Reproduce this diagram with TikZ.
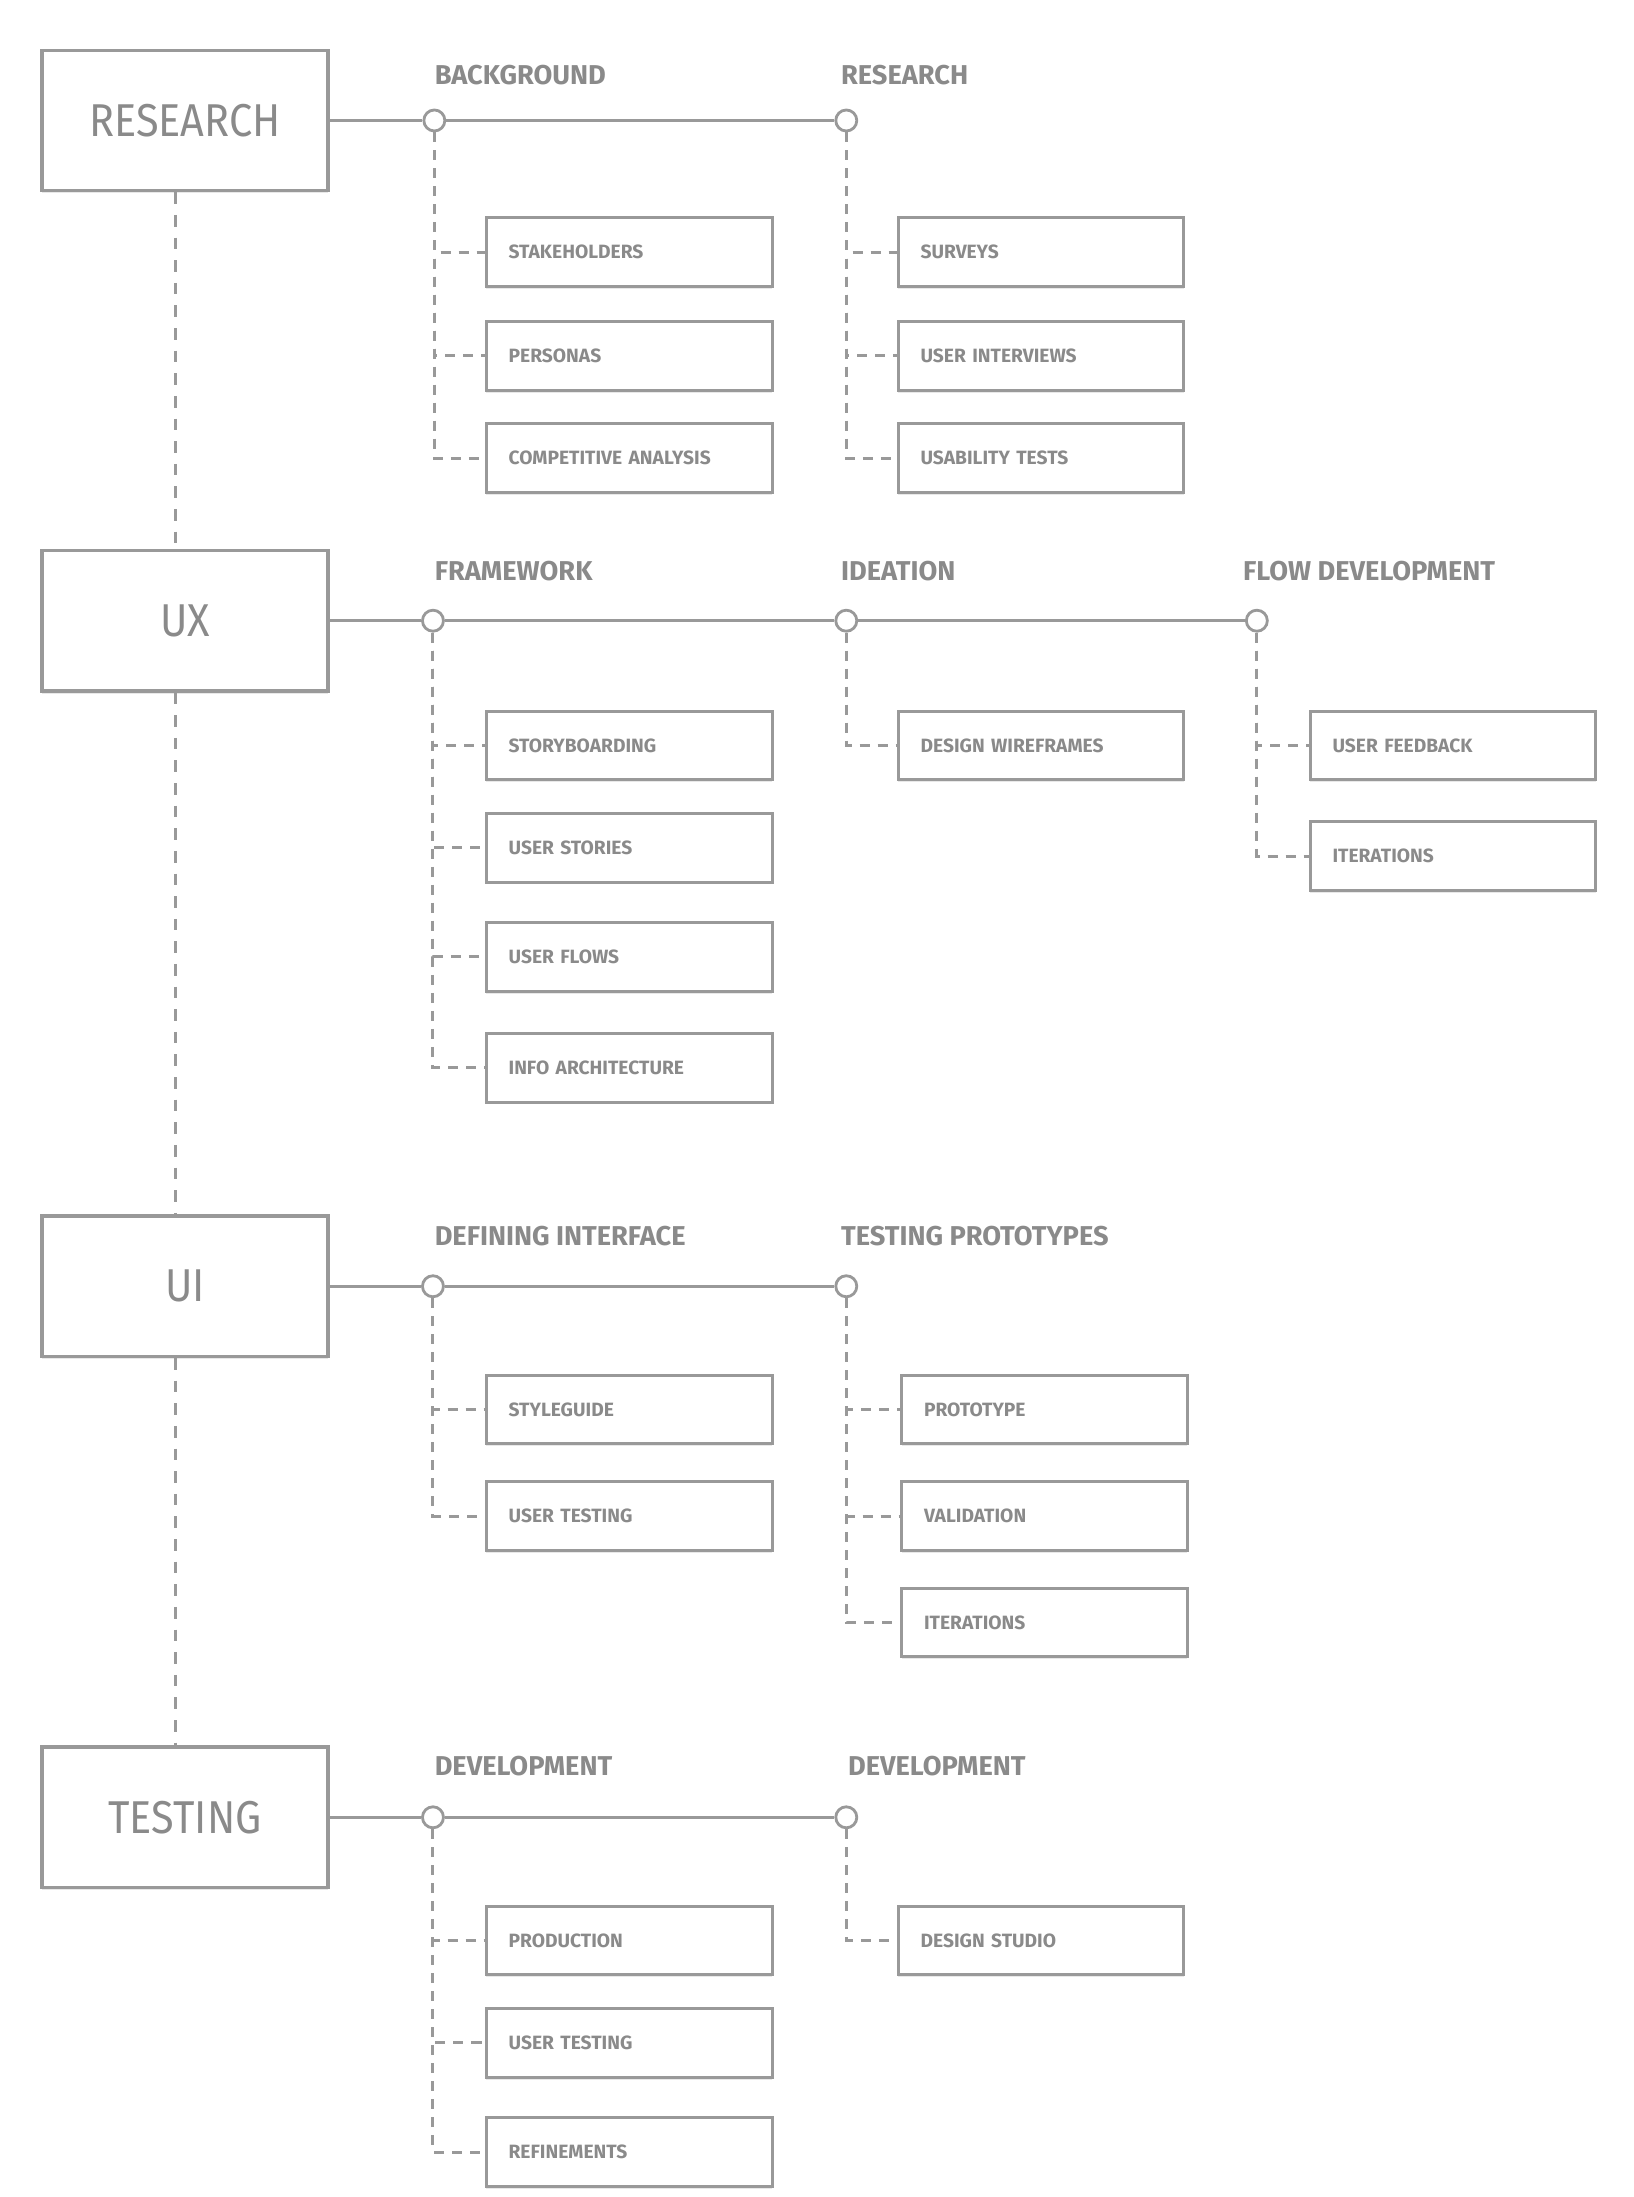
\documentclass[tikz,border=0pt]{standalone}
\usepackage{fontspec}
\setmainfont{Fira Sans}
\newfontfamily\boxfont[FakeStretch=0.9]{Fira Sans}
\newfontfamily\headfont{Fira Sans}
\usetikzlibrary{shadows}
\definecolor{ln}{HTML}{999999}
\definecolor{tx}{HTML}{8A8A8A}
\tikzset{
  mainbox/.style={draw=ln, line width=1.8pt, fill=white, minimum width=142.8pt, minimum height=70pt, inner sep=0pt,
    text=tx, font=\boxfont\fontsize{23}{23}\selectfont,
    drop shadow={opacity=0.18, shadow xshift=0pt, shadow yshift=-1.4pt}},
  childbox/.style={draw=ln, line width=1.5pt, fill=white, text width=120.4pt, inner xsep=11.2pt, inner ysep=0pt,
    minimum height=34.3pt, align=left, text=tx, font=\headfont\bfseries\fontsize{9.6}{10}\selectfont,
    drop shadow={opacity=0.18, shadow xshift=0pt, shadow yshift=-1.2pt}},
  headlab/.style={anchor=base west, inner sep=0pt, text=tx, font=\headfont\bfseries\fontsize{13.6}{14}\selectfont},
  knot/.style={circle, draw=ln, fill=white, line width=1.4pt, minimum size=10.5pt, inner sep=0pt},
  solidln/.style={draw=ln, line width=1.5pt},
  dashln/.style={draw=ln, line width=1.5pt, dash pattern=on 5pt off 4pt},
  spineln/.style={draw=ln, line width=1.5pt, dash pattern=on 5.8pt off 5.5pt}
}
\begin{document}
\begin{tikzpicture}[x=0.7pt, y=-0.7pt]
\useasboundingbox (0,0) rectangle (1166,1568);
\fill[white] (0,0) rectangle (1166,1568);
\coordinate (spine) at (125,0);

% ---------- RESEARCH row ----------
\node[mainbox] (research) at (132,86) {RESEARCH};
\node[headlab] (hr1) at (310,60) {BACKGROUND};
\node[headlab] (hr2) at (600,60) {RESEARCH};
\node[childbox] (rA1) at (449,180) {STAKEHOLDERS};
\node[childbox] (rA2) at (449,254) {PERSONAS};
\node[childbox] (rA3) at (449,327) {COMPETITIVE ANALYSIS};
\node[childbox] (rB1) at (743,180) {SURVEYS};
\node[childbox] (rB2) at (743,254) {USER INTERVIEWS};
\node[childbox] (rB3) at (743,327) {USABILITY TESTS};
\node[knot] (r1) at (310,86) {};
\node[knot] (r2) at (604,86) {};

% ---------- UX row ----------
\node[mainbox] (ux) at (132,443) {UX};
\node[headlab] (hu1) at (310,414) {FRAMEWORK};
\node[headlab] (hu2) at (600,414) {IDEATION};
\node[headlab] (hu3) at (887,414) {FLOW DEVELOPMENT};
\node[childbox] (uA1) at (449,532) {STORYBOARDING};
\node[childbox] (uA2) at (449,605) {USER STORIES};
\node[childbox] (uA3) at (449,683) {USER FLOWS};
\node[childbox] (uA4) at (449,762) {INFO ARCHITECTURE};
\node[childbox] (uB1) at (743,532) {DESIGN WIREFRAMES};
\node[childbox] (uC1) at (1037,532) {USER FEEDBACK};
\node[childbox] (uC2) at (1037,611) {ITERATIONS};
\node[knot] (u1) at (309,443) {};
\node[knot] (u2) at (604,443) {};
\node[knot] (u3) at (897,443) {};

% ---------- UI row ----------
\node[mainbox] (ui) at (132,918) {UI};
\node[headlab] (hi1) at (310,889) {DEFINING INTERFACE};
\node[headlab] (hi2) at (600,889) {TESTING PROTOTYPES};
\node[childbox] (iA1) at (449,1006) {STYLEGUIDE};
\node[childbox] (iA2) at (449,1082) {USER TESTING};
\node[childbox] (iB1) at (745.5,1006) {PROTOTYPE};
\node[childbox] (iB2) at (745.5,1082) {VALIDATION};
\node[childbox] (iB3) at (745.5,1158) {ITERATIONS};
\node[knot] (i1) at (309,918) {};
\node[knot] (i2) at (604,918) {};

% ---------- TESTING row ----------
\node[mainbox] (testing) at (132,1297) {TESTING};
\node[headlab] (ht1) at (310,1267) {DEVELOPMENT};
\node[headlab] (ht2) at (605,1267) {DEVELOPMENT};
\node[childbox] (tA1) at (449,1385) {PRODUCTION};
\node[childbox] (tA2) at (449,1458) {USER TESTING};
\node[childbox] (tA3) at (449,1536) {REFINEMENTS};
\node[childbox] (tB1) at (743,1385) {DESIGN STUDIO};
\node[knot] (t1) at (309,1297) {};
\node[knot] (t2) at (604,1297) {};

% ---------- spine ----------
\draw[spineln] (research.south -| spine) -- (ux.north -| spine);
\draw[spineln] (ux.south -| spine) -- (ui.north -| spine);
\draw[spineln] (ui.south -| spine) -- (testing.north -| spine);

% ---------- solid branches ----------
\draw[solidln] (research.east) -- (r1.west);
\draw[solidln] (r1.east) -- (r2.west);
\draw[solidln] (ux.east) -- (u1.west);
\draw[solidln] (u1.east) -- (u2.west);
\draw[solidln] (u2.east) -- (u3.west);
\draw[solidln] (ui.east) -- (i1.west);
\draw[solidln] (i1.east) -- (i2.west);
\draw[solidln] (testing.east) -- (t1.west);
\draw[solidln] (t1.east) -- (t2.west);

% ---------- dashed leaves ----------
\foreach \k/\c in {r1/rA1, r1/rA2, r1/rA3, r2/rB1, r2/rB2, r2/rB3,
                   u1/uA1, u1/uA2, u1/uA3, u1/uA4, u2/uB1, u3/uC1, u3/uC2,
                   i1/iA1, i1/iA2, i2/iB1, i2/iB2, i2/iB3,
                   t1/tA1, t1/tA2, t1/tA3, t2/tB1}
  \draw[dashln] (\k.south) |- (\c.west);
\end{tikzpicture}
\end{document}
